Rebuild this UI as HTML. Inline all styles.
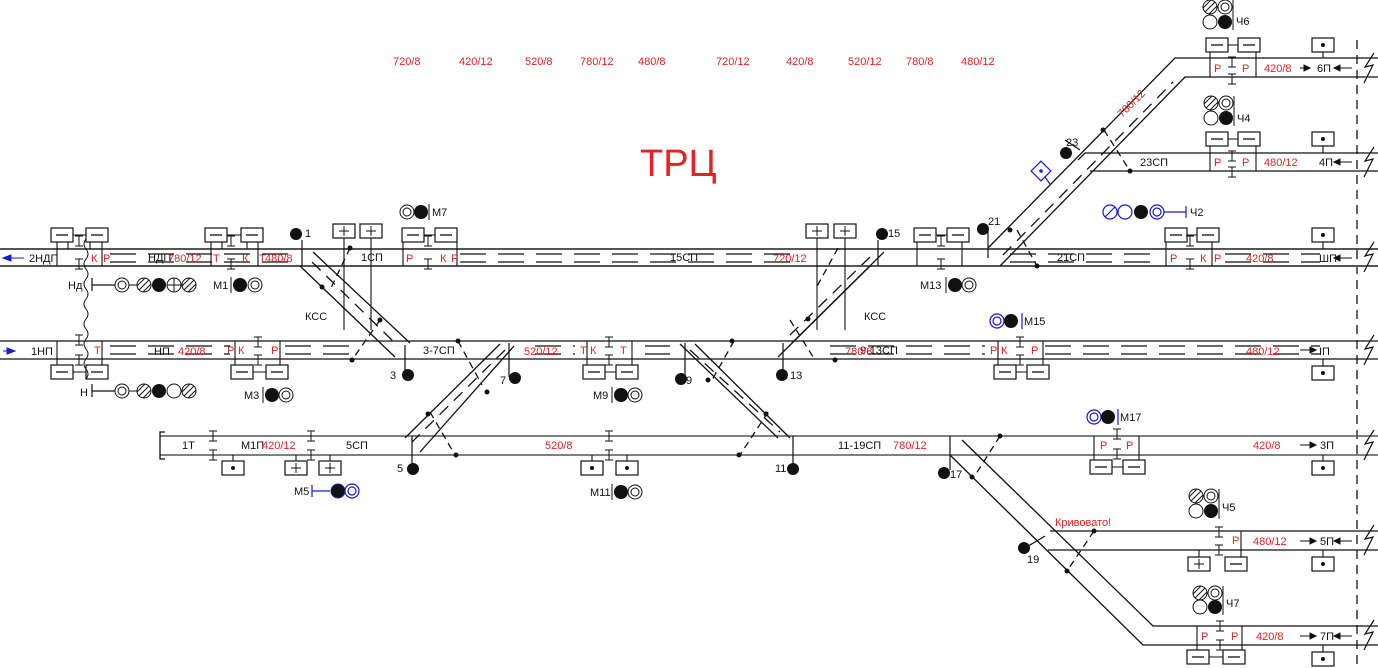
<!DOCTYPE html>
<html><head><meta charset="utf-8"><style>
html,body{margin:0;padding:0;background:#fff;width:1378px;height:668px;overflow:hidden}
svg{display:block}
text{font-family:"Liberation Sans",sans-serif;font-size:11px;fill:#111}
.r{fill:#e52222}
.b{fill:#1a1ad0}
</style></head><body>
<svg width="1378" height="668" viewBox="0 0 1378 668" xmlns="http://www.w3.org/2000/svg">
<defs>
<g id="bm"><rect x="-11" y="-7" width="22" height="14" fill="#fff" stroke="#111" stroke-width="1.2"/><line x1="-6" y1="0" x2="6" y2="0" stroke="#111" stroke-width="1.3"/></g>
<g id="bp"><rect x="-11" y="-7" width="22" height="14" fill="#fff" stroke="#111" stroke-width="1.2"/><line x1="-5" y1="0" x2="5" y2="0" stroke="#111"/><line x1="0" y1="-5" x2="0" y2="5" stroke="#111"/></g>
<g id="bd"><rect x="-11" y="-7" width="22" height="14" fill="#fff" stroke="#111" stroke-width="1.2"/><circle r="2" fill="#111"/></g>
<g id="co"><circle r="7" fill="#fff" stroke="#111"/><circle r="4" fill="none" stroke="#111"/></g>
<g id="cs"><circle r="7" fill="#fff" stroke="#111"/><line x1="-5" y1="5" x2="5" y2="-5" stroke="#111"/><line x1="-7" y1="1" x2="1" y2="-7" stroke="#111"/><line x1="-1" y1="7" x2="7" y2="-1" stroke="#111"/></g>
<g id="cf"><circle r="7" fill="#111"/></g>
<g id="ce"><circle r="7" fill="#fff" stroke="#111"/></g>
<g id="cx"><circle r="7" fill="#fff" stroke="#111"/><line x1="-7" y1="0" x2="7" y2="0" stroke="#111"/><line x1="0" y1="-7" x2="0" y2="7" stroke="#111"/></g>
<g id="ins"><line x1="-4" y1="-5" x2="4" y2="-5" stroke="#111"/><line x1="0" y1="-5" x2="0" y2="5" stroke="#111"/><line x1="-4" y1="5" x2="4" y2="5" stroke="#111"/></g>
</defs>

<g class="r">
<text x="393" y="65" class="r">720/8</text><text x="459" y="65" class="r">420/12</text><text x="525" y="65" class="r">520/8</text><text x="580" y="65" class="r">780/12</text><text x="638" y="65" class="r">480/8</text><text x="716" y="65" class="r">720/12</text><text x="786" y="65" class="r">420/8</text><text x="848" y="65" class="r">520/12</text><text x="906" y="65" class="r">780/8</text><text x="961" y="65" class="r">480/12</text>
</g>
<text x="640" y="176" class="r" style="font-size:38px">ТРЦ</text>

<line x1="1357" y1="40" x2="1357" y2="668" stroke="#333" stroke-width="1.5" stroke-dasharray="9,6"/>

<g stroke="#111" stroke-width="1.3" fill="none">
<line x1="0" y1="249" x2="1378" y2="249" stroke="#555" stroke-width="2"/>
<line x1="0" y1="266" x2="1378" y2="266" stroke="#555" stroke-width="2"/>
<line x1="0" y1="341" x2="1378" y2="341"/>
<line x1="0" y1="359" x2="1378" y2="359"/>
<line x1="160" y1="436" x2="1378" y2="436" stroke="#555" stroke-width="1.6"/>
<line x1="160" y1="455" x2="1378" y2="455" stroke="#555" stroke-width="1.6"/>
<polyline points="165,432 160,432 160,459 165,459"/>
<polyline points="988,248 1175,58 1378,58"/>
<polyline points="1000,266 1185,77 1378,77"/>
<polyline points="1078,160 1085,153 1378,153"/>
<polyline points="1090,171 1378,171"/>
<polyline points="962,440 1153,626 1378,626"/>
<polyline points="950,455 1143,645 1378,645"/>
<line x1="1050" y1="531" x2="1378" y2="531"/>
<line x1="1048" y1="550" x2="1378" y2="550"/>
<line x1="300" y1="266" x2="395" y2="357"/><line x1="313" y1="252" x2="410" y2="343"/>
<line x1="884" y1="252" x2="792" y2="343"/><line x1="870" y1="266" x2="778" y2="357"/>
<line x1="500" y1="344" x2="405" y2="438"/><line x1="514" y1="346" x2="420" y2="452"/>
<line x1="680" y1="344" x2="778" y2="438"/><line x1="695" y1="344" x2="790" y2="438"/>
<g stroke-dasharray="12,8">
<line x1="312" y1="262" x2="398" y2="346"/><line x1="870" y1="257" x2="790" y2="335"/>
<line x1="505" y1="350" x2="412" y2="442"/><line x1="690" y1="350" x2="780" y2="432"/>
<line x1="1003" y1="255" x2="1173" y2="82"/>
</g>
<g stroke-dasharray="26,12" stroke-width="1.2">
<line x1="110" y1="254" x2="290" y2="254"/><line x1="110" y1="262" x2="290" y2="262"/>
<line x1="460" y1="254" x2="800" y2="254"/><line x1="460" y1="262" x2="800" y2="262"/>
<line x1="1010" y1="254" x2="1160" y2="254"/><line x1="1010" y1="262" x2="1160" y2="262"/>
<line x1="1225" y1="254" x2="1320" y2="254"/><line x1="1225" y1="262" x2="1320" y2="262"/>
<line x1="110" y1="346" x2="230" y2="346"/><line x1="110" y1="354" x2="230" y2="354"/>
<line x1="285" y1="346" x2="350" y2="346"/><line x1="285" y1="354" x2="350" y2="354"/>
<line x1="535" y1="346" x2="575" y2="346"/><line x1="535" y1="354" x2="575" y2="354"/>
<line x1="645" y1="346" x2="670" y2="346"/><line x1="645" y1="354" x2="670" y2="354"/>
<line x1="830" y1="346" x2="985" y2="346"/><line x1="830" y1="354" x2="985" y2="354"/>
<line x1="1045" y1="346" x2="1320" y2="346"/><line x1="1045" y1="354" x2="1320" y2="354"/>
</g>
<g stroke-dasharray="7,5">
<line x1="350" y1="248" x2="330" y2="290"/><line x1="380" y1="320" x2="352" y2="360"/>
<line x1="458" y1="341" x2="482" y2="385"/><line x1="430" y1="412" x2="455" y2="455"/>
<line x1="790" y1="320" x2="815" y2="360"/><line x1="838" y1="248" x2="815" y2="290"/>
<line x1="734" y1="341" x2="712" y2="380"/><line x1="768" y1="412" x2="740" y2="455"/>
<line x1="1017" y1="230" x2="1037" y2="266"/><line x1="1104" y1="130" x2="1130" y2="171"/>
<line x1="1000" y1="436" x2="974" y2="477"/><line x1="1094" y1="531" x2="1067" y2="571"/>
</g>
</g>
<g fill="#111">
<circle cx="350" cy="248" r="2.5"/><circle cx="322" cy="287" r="2.5"/><circle cx="380" cy="320" r="2.5"/><circle cx="352" cy="360" r="2.5"/>
<circle cx="458" cy="341" r="2.5"/><circle cx="487" cy="392" r="2.5"/><circle cx="428" cy="414" r="2.5"/><circle cx="456" cy="455" r="2.5"/>
<circle cx="808" cy="319" r="2.5"/><circle cx="835" cy="360" r="2.5"/><circle cx="732" cy="341" r="2.5"/><circle cx="708" cy="380" r="2.5"/><circle cx="766" cy="414" r="2.5"/><circle cx="739" cy="455" r="2.5"/>
<circle cx="1010" cy="230" r="2.5"/><circle cx="1037" cy="266" r="2.5"/><circle cx="1103" cy="130" r="2.5"/><circle cx="1130" cy="171" r="2.5"/>
<circle cx="1000" cy="436" r="2.5"/><circle cx="972" cy="477" r="2.5"/><circle cx="1094" cy="531" r="2.5"/><circle cx="1067" cy="571" r="2.5"/>
</g>

<g stroke="#111" stroke-width="1.2">
<line x1="302" y1="240" x2="302" y2="266"/><line x1="405" y1="345" x2="405" y2="372"/>
<line x1="878" y1="240" x2="878" y2="266"/><line x1="783" y1="343" x2="783" y2="372"/>
<line x1="509" y1="343" x2="509" y2="377"/><line x1="412" y1="436" x2="412" y2="466"/>
<line x1="685" y1="343" x2="685" y2="377"/><line x1="793" y1="436" x2="793" y2="466"/>
<line x1="988" y1="228" x2="988" y2="258"/><line x1="1080" y1="150" x2="1065" y2="140"/>
<line x1="950" y1="436" x2="950" y2="470"/><line x1="1025" y1="548" x2="1045" y2="536"/>
</g>
<g fill="#111">
<circle cx="296" cy="234" r="6"/><circle cx="408" cy="375" r="6"/><circle cx="882" cy="234" r="6"/><circle cx="782" cy="375" r="6"/>
<circle cx="515" cy="378" r="6"/><circle cx="413" cy="469" r="6"/><circle cx="681" cy="379" r="6"/><circle cx="793" cy="469" r="6"/>
<circle cx="983" cy="229" r="6"/><circle cx="1066" cy="153" r="6"/><circle cx="944" cy="473" r="6"/><circle cx="1024" cy="548" r="6"/>
</g>
<text x="305" y="237">1</text><text x="390" y="379">3</text><text x="888" y="237">15</text><text x="790" y="379">13</text>
<text x="500" y="384">7</text><text x="397" y="472">5</text><text x="686" y="384">9</text><text x="775" y="472">11</text>
<text x="988" y="225">21</text><text x="1066" y="146">23</text><text x="950" y="478">17</text><text x="1027" y="563">19</text>

<g stroke="#111" stroke-width="1.1">
<line x1="62" y1="235" x2="97" y2="235"/><line x1="216" y1="235" x2="252" y2="235"/><line x1="413" y1="235" x2="446" y2="235"/>
<line x1="925" y1="235" x2="958" y2="235"/><line x1="1176" y1="235" x2="1208" y2="235"/>
<line x1="1217" y1="45" x2="1249" y2="45"/><line x1="1217" y1="139" x2="1249" y2="139"/>
<line x1="62" y1="372" x2="97" y2="372"/><line x1="242" y1="372" x2="277" y2="372"/><line x1="594" y1="372" x2="627" y2="372"/><line x1="1005" y1="372" x2="1038" y2="372"/>
<line x1="1101" y1="467" x2="1134" y2="467"/><line x1="1198" y1="657" x2="1234" y2="657"/>
<line x1="57" y1="242" x2="57" y2="266"/><line x1="68" y1="242" x2="68" y2="249"/><line x1="90" y1="242" x2="90" y2="249"/><line x1="102" y1="242" x2="102" y2="266"/>
<line x1="211" y1="242" x2="211" y2="266"/><line x1="222" y1="242" x2="222" y2="249"/><line x1="247" y1="242" x2="247" y2="249"/><line x1="258" y1="242" x2="258" y2="266"/>
<line x1="403" y1="242" x2="403" y2="266"/><line x1="457" y1="242" x2="457" y2="266"/>
<line x1="917" y1="242" x2="917" y2="266"/><line x1="962" y1="242" x2="962" y2="266"/>
<line x1="1166" y1="242" x2="1166" y2="266"/><line x1="1212" y1="242" x2="1212" y2="266"/>
<line x1="1210" y1="52" x2="1210" y2="77"/><line x1="1256" y1="52" x2="1256" y2="77"/>
<line x1="1210" y1="146" x2="1210" y2="171"/><line x1="1256" y1="146" x2="1256" y2="171"/>
<line x1="57" y1="341" x2="57" y2="365"/><line x1="102" y1="341" x2="102" y2="365"/>
<line x1="235" y1="341" x2="235" y2="365"/><line x1="280" y1="341" x2="280" y2="365"/>
<line x1="587" y1="341" x2="587" y2="365"/><line x1="632" y1="341" x2="632" y2="365"/>
<line x1="998" y1="341" x2="998" y2="365"/><line x1="1043" y1="341" x2="1043" y2="365"/>
<line x1="1094" y1="436" x2="1094" y2="460"/><line x1="1139" y1="436" x2="1139" y2="460"/>
<line x1="1197" y1="626" x2="1197" y2="650"/><line x1="1242" y1="626" x2="1242" y2="650"/>
<line x1="1241" y1="531" x2="1241" y2="557"/><line x1="1199" y1="550" x2="1199" y2="557"/>
<line x1="1323" y1="52" x2="1323" y2="58"/><line x1="1323" y1="146" x2="1323" y2="153"/><line x1="1323" y1="242" x2="1323" y2="249"/>
<line x1="1323" y1="359" x2="1323" y2="367"/><line x1="1323" y1="455" x2="1323" y2="462"/><line x1="1323" y1="550" x2="1323" y2="557"/><line x1="1323" y1="645" x2="1323" y2="652"/>
<line x1="233" y1="455" x2="233" y2="462"/><line x1="296" y1="455" x2="296" y2="462"/><line x1="330" y1="455" x2="330" y2="462"/>
<line x1="592" y1="455" x2="592" y2="462"/><line x1="627" y1="455" x2="627" y2="462"/>
<line x1="344" y1="238" x2="344" y2="330"/><line x1="371" y1="238" x2="371" y2="330"/>
<line x1="817" y1="238" x2="817" y2="330"/><line x1="845" y1="238" x2="845" y2="330"/>
</g>
<use href="#bm" x="62" y="235"/><use href="#bm" x="97" y="235"/><use href="#bm" x="216" y="235"/><use href="#bm" x="252" y="235"/>
<use href="#bm" x="413" y="235"/><use href="#bm" x="446" y="235"/><use href="#bm" x="925" y="235"/><use href="#bm" x="958" y="235"/>
<use href="#bm" x="1176" y="235"/><use href="#bm" x="1208" y="235"/><use href="#bm" x="1217" y="45"/><use href="#bm" x="1249" y="45"/>
<use href="#bm" x="1217" y="139"/><use href="#bm" x="1249" y="139"/>
<use href="#bm" x="62" y="372"/><use href="#bm" x="97" y="372"/><use href="#bm" x="242" y="372"/><use href="#bm" x="277" y="372"/>
<use href="#bm" x="594" y="372"/><use href="#bm" x="627" y="372"/><use href="#bm" x="1005" y="372"/><use href="#bm" x="1038" y="372"/>
<use href="#bm" x="1101" y="467"/><use href="#bm" x="1134" y="467"/><use href="#bm" x="1198" y="657"/><use href="#bm" x="1234" y="657"/>
<use href="#bm" x="1236" y="564"/><use href="#bp" x="1199" y="564"/>
<use href="#bp" x="344" y="231"/><use href="#bp" x="371" y="231"/><use href="#bp" x="817" y="231"/><use href="#bp" x="845" y="231"/>
<use href="#bp" x="296" y="468"/><use href="#bp" x="330" y="468"/>
<use href="#bd" x="233" y="468"/><use href="#bd" x="592" y="468"/><use href="#bd" x="627" y="468"/>
<use href="#bd" x="1323" y="45"/><use href="#bd" x="1323" y="139"/><use href="#bd" x="1323" y="235"/><use href="#bd" x="1323" y="373"/>
<use href="#bd" x="1323" y="468"/><use href="#bd" x="1323" y="564"/><use href="#bd" x="1323" y="659"/>

<use href="#ins" x="79" y="241"/><use href="#ins" x="79" y="264"/><use href="#ins" x="231" y="241"/><use href="#ins" x="231" y="264"/>
<use href="#ins" x="428" y="241"/><use href="#ins" x="428" y="264"/><use href="#ins" x="941" y="241"/><use href="#ins" x="941" y="264"/>
<use href="#ins" x="1190" y="241"/><use href="#ins" x="1190" y="264"/><use href="#ins" x="1232" y="62"/><use href="#ins" x="1232" y="79"/>
<use href="#ins" x="1232" y="156"/><use href="#ins" x="1232" y="172"/>
<use href="#ins" x="79" y="340"/><use href="#ins" x="79" y="360"/><use href="#ins" x="258" y="342"/><use href="#ins" x="258" y="360"/>
<use href="#ins" x="609" y="342"/><use href="#ins" x="609" y="360"/><use href="#ins" x="1020" y="342"/><use href="#ins" x="1020" y="360"/>
<use href="#ins" x="213" y="436"/><use href="#ins" x="213" y="455"/><use href="#ins" x="311" y="436"/><use href="#ins" x="311" y="455"/>
<use href="#ins" x="609" y="436"/><use href="#ins" x="609" y="455"/><use href="#ins" x="1117" y="434"/><use href="#ins" x="1117" y="454"/>
<use href="#ins" x="1219" y="532"/><use href="#ins" x="1219" y="550"/><use href="#ins" x="1220" y="626"/><use href="#ins" x="1220" y="645"/>

<path d="M86 239 q-4 5 0 10 q4 5 0 10 q-4 5 0 10 q4 5 0 10 q-4 5 0 10 q4 5 0 10 q-4 5 0 10 q4 5 0 10 q-4 5 0 10 q4 5 0 10 q-4 5 0 10 q4 5 0 10 q-4 5 0 10 q4 5 0 10" fill="none" stroke="#111" stroke-width="1"/>

<g stroke="#111" stroke-width="1.2"><line x1="92" y1="278" x2="92" y2="291"/><line x1="92" y1="285" x2="115" y2="285"/>
<line x1="92" y1="384" x2="92" y2="397"/><line x1="92" y1="391" x2="115" y2="391"/></g>
<use href="#co" x="122" y="285"/><use href="#cs" x="144" y="285"/><use href="#cf" x="159" y="285"/><use href="#cx" x="174" y="285"/><use href="#cs" x="189" y="285"/>
<line x1="129" y1="285" x2="137" y2="285" stroke="#111"/>
<use href="#co" x="122" y="391"/><use href="#cs" x="144" y="391"/><use href="#cf" x="159" y="391"/><use href="#ce" x="174" y="391"/><use href="#cs" x="189" y="391"/>
<line x1="129" y1="391" x2="137" y2="391" stroke="#111"/>
<text x="68" y="289">Нд</text><text x="80" y="396">Н</text>
<line x1="231" y1="277" x2="231" y2="293" stroke="#111"/><use href="#cf" x="240" y="285"/><use href="#co" x="255" y="285"/><text x="213" y="289">М1</text>
<line x1="263" y1="387" x2="263" y2="403" stroke="#111"/><use href="#cf" x="272" y="395"/><use href="#co" x="286" y="395"/><text x="244" y="399">М3</text>
<line x1="612" y1="387" x2="612" y2="403" stroke="#111"/><use href="#cf" x="621" y="395"/><use href="#co" x="635" y="395"/><text x="593" y="399">М9</text>
<line x1="612" y1="484" x2="612" y2="500" stroke="#111"/><use href="#cf" x="621" y="492"/><use href="#co" x="635" y="492"/><text x="590" y="496">М11</text>
<line x1="946" y1="277" x2="946" y2="293" stroke="#111"/><use href="#cf" x="955" y="285"/><use href="#co" x="969" y="285"/><text x="920" y="289">М13</text>
<use href="#co" x="407" y="212"/><use href="#cf" x="421" y="212"/><line x1="429" y1="204" x2="429" y2="220" stroke="#111"/><text x="432" y="216">М7</text>
<g stroke="#1a1ad0" stroke-width="1.2" fill="#fff">
<line x1="312" y1="485" x2="312" y2="497"/><line x1="312" y1="491" x2="330" y2="491"/>
<circle cx="352" cy="491" r="7"/><circle cx="352" cy="491" r="4"/>
<circle cx="997" cy="321" r="7"/><circle cx="997" cy="321" r="4"/><line x1="1022" y1="313" x2="1022" y2="329"/>
<circle cx="1094" cy="417" r="7"/><circle cx="1094" cy="417" r="4"/><line x1="1118" y1="409" x2="1118" y2="425"/>
<circle cx="1110" cy="212" r="7"/><line x1="1105" y1="217" x2="1115" y2="207"/><circle cx="1125" cy="212" r="7"/><circle cx="1157" cy="212" r="7"/><circle cx="1157" cy="212" r="4"/>
<line x1="1164" y1="212" x2="1186" y2="212"/><line x1="1186" y1="206" x2="1186" y2="218"/>
<rect x="1034" y="164" width="14" height="14" transform="rotate(45 1041 171)"/>
<line x1="1045" y1="177" x2="1050" y2="184"/>
</g>
<circle cx="1041" cy="171" r="1.8" fill="#1a1ad0"/>
<circle cx="338" cy="491" r="7" fill="#111" stroke="#1a1ad0"/>
<circle cx="1011" cy="321" r="7" fill="#111"/>
<circle cx="1108" cy="417" r="7" fill="#111"/>
<circle cx="1141" cy="212" r="7" fill="#111"/>
<text x="294" y="495">М5</text><text x="1024" y="325">М15</text><text x="1120" y="421">М17</text><text x="1190" y="216">Ч2</text>
<use href="#cs" x="1210" y="7"/><use href="#co" x="1225" y="7"/><use href="#ce" x="1210" y="22"/><use href="#cf" x="1225" y="22"/><line x1="1233" y1="0" x2="1233" y2="30" stroke="#111"/><text x="1236" y="25">Ч6</text>
<use href="#cs" x="1211" y="103"/><use href="#co" x="1226" y="103"/><use href="#ce" x="1211" y="118"/><use href="#cf" x="1226" y="118"/><line x1="1234" y1="96" x2="1234" y2="126" stroke="#111"/><text x="1237" y="122">Ч4</text>
<use href="#cs" x="1196" y="496"/><use href="#co" x="1211" y="496"/><use href="#ce" x="1196" y="511"/><use href="#cf" x="1211" y="511"/><line x1="1219" y1="489" x2="1219" y2="519" stroke="#111"/><text x="1222" y="511">Ч5</text>
<use href="#cs" x="1200" y="593"/><use href="#co" x="1215" y="593"/><use href="#ce" x="1200" y="607"/><use href="#cf" x="1215" y="607"/><line x1="1223" y1="586" x2="1223" y2="615" stroke="#111"/><text x="1226" y="607">Ч7</text>

<text x="29" y="262">2НДП</text><text x="31" y="355">1НП</text>
<path d="M3 258 l8 -3 v6 z M11 258 H24" fill="#1a1ad0" stroke="#1a1ad0"/>
<path d="M3 351 H15 M15 351 l-8 -3 v6 z" fill="#1a1ad0" stroke="#1a1ad0"/>
<text x="148" y="261">НДП</text><text x="154" y="355">НП</text><text x="361" y="261">1СП</text><text x="670" y="261">15СП</text><text x="1057" y="261">21СП</text>
<text x="423" y="354">3-7СП</text><text x="860" y="354">9-13СП</text><text x="1140" y="166">23СП</text>
<text x="182" y="449">1Т</text><text x="241" y="449">М1П</text><text x="346" y="449">5СП</text><text x="838" y="449">11-19СП</text>
<text x="305" y="320">КСС</text><text x="864" y="320">КСС</text>
<g class="r">
<text x="91" y="262" class="r">К</text><text x="103" y="262" class="r">Р</text><text x="168" y="262" class="r">780/12</text><text x="213" y="262" class="r">Т</text><text x="242" y="262" class="r">К</text><text x="259" y="262" class="r">Т</text><text x="265" y="262" class="r">480/8</text>
<text x="406" y="262" class="r">Р</text><text x="440" y="262" class="r">К</text><text x="451" y="262" class="r">Р</text><text x="773" y="262" class="r">720/12</text>
<text x="1170" y="262" class="r">Р</text><text x="1200" y="262" class="r">К</text><text x="1214" y="262" class="r">Р</text><text x="1246" y="262" class="r">420/8</text>
<text x="94" y="354" class="r">Т</text><text x="178" y="355" class="r">420/8</text><text x="227" y="354" class="r">Р</text><text x="238" y="354" class="r">К</text><text x="271" y="354" class="r">Р</text>
<text x="524" y="355" class="r">520/12</text><text x="580" y="354" class="r">Т</text><text x="590" y="354" class="r">К</text><text x="620" y="354" class="r">Т</text><text x="845" y="355" class="r">780/8</text>
<text x="990" y="354" class="r">Р</text><text x="1001" y="354" class="r">К</text><text x="1031" y="354" class="r">Р</text><text x="1246" y="355" class="r">480/12</text>
<text x="262" y="449" class="r">420/12</text><text x="545" y="449" class="r">520/8</text><text x="893" y="449" class="r">780/12</text><text x="1100" y="449" class="r">Р</text><text x="1126" y="449" class="r">Р</text><text x="1253" y="449" class="r">420/8</text>
<text x="1214" y="72" class="r">Р</text><text x="1242" y="72" class="r">Р</text><text x="1264" y="72" class="r">420/8</text>
<text x="1214" y="166" class="r">Р</text><text x="1242" y="166" class="r">Р</text><text x="1264" y="166" class="r">480/12</text>
<text x="1232" y="544" class="r">Р</text><text x="1253" y="545" class="r">480/12</text><text x="1055" y="526" class="r">Кривовато!</text>
<text x="1201" y="640" class="r">Р</text><text x="1231" y="640" class="r">Р</text><text x="1256" y="640" class="r">420/8</text>
<text x="1122" y="118" class="r" transform="rotate(-45 1122 118)">780/12</text>
</g>
<text x="1317" y="72">6П</text><text x="1319" y="166">4П</text><text x="1319" y="262">ШП</text><text x="1319" y="355">IП</text><text x="1320" y="449">3П</text><text x="1320" y="545">5П</text><text x="1320" y="640">7П</text>
<g stroke="#111" fill="#111">
<path d="M1300 68 H1310 M1310 68 l-6 -3 v6 z"/><path d="M1352 68 H1340 M1334 68 l6 -3 v6 z"/>
<path d="M1352 162 H1340 M1334 162 l6 -3 v6 z"/><path d="M1352 258 H1340 M1334 258 l6 -3 v6 z"/>
<path d="M1300 350 H1310 M1316 350 l-6 -3 v6 z"/>
<path d="M1300 445 H1310 M1316 445 l-6 -3 v6 z"/>
<path d="M1300 541 H1310 M1316 541 l-6 -3 v6 z"/><path d="M1352 541 H1340 M1334 541 l6 -3 v6 z"/>
<path d="M1300 636 H1310 M1316 636 l-6 -3 v6 z"/><path d="M1352 636 H1340 M1334 636 l6 -3 v6 z"/>
</g>
<g stroke="#111" fill="none" stroke-width="1.2">
<path d="M1374 53 l-9 14 l8 -2 l-9 18"/><path d="M1374 147 l-9 14 l8 -2 l-9 18"/><path d="M1374 242 l-9 14 l8 -2 l-9 18"/>
<path d="M1374 335 l-9 14 l8 -2 l-9 18"/><path d="M1374 430 l-9 14 l8 -2 l-9 18"/><path d="M1374 525 l-9 14 l8 -2 l-9 18"/><path d="M1374 620 l-9 14 l8 -2 l-9 18"/>
</g>
</svg>
</body></html>
